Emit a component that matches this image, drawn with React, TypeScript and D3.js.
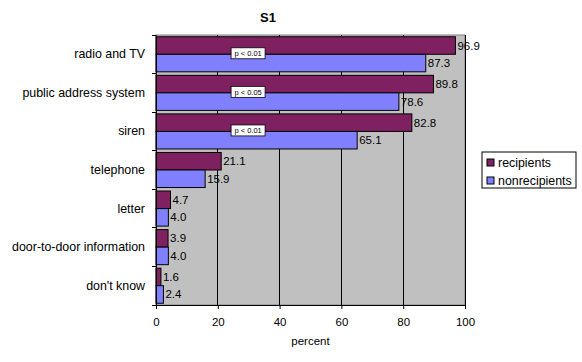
import { useRef, useEffect } from 'react';
import * as d3 from 'd3';

const categories = [
  'radio and TV',
  'public address system',
  'siren',
  'telephone',
  'letter',
  'door-to-door information',
  "don't know",
];
const recipients = [96.9, 89.8, 82.8, 21.1, 4.7, 3.9, 1.6];
const nonrecipients = [87.3, 78.6, 65.1, 15.9, 4.0, 4.0, 2.4];
const seriesNames = ['recipients', 'nonrecipients'];
const seriesColors = ['#7f2060', '#8080ff'];
const pLabels = ['p < 0.01', 'p < 0.05', 'p < 0.01', '', '', '', ''];
const xTicks = [0, 20, 40, 60, 80, 100];

const width = 582;
const height = 362;

function App() {
  const svgRef = useRef<SVGSVGElement>(null);

  useEffect(() => {
    const svg = d3.select(svgRef.current);
    svg.selectAll('*').remove();
    const font = 'Liberation Sans, Arial, sans-serif';
    const plot = { left: 156, right: 465, top: 35, bottom: 305 };

    const x = d3.scaleLinear().domain([0, 100]).range([plot.left, plot.right]);
    const y = d3
      .scaleBand()
      .domain(categories)
      .range([plot.top, plot.bottom])
      .paddingInner(0)
      .paddingOuter(0);
    const inner = d3
      .scaleBand()
      .domain(seriesNames)
      .range([0, y.bandwidth()])
      .paddingOuter(0.1)
      .paddingInner(0);

    // plot area
    svg
      .append('rect')
      .attr('x', plot.left)
      .attr('y', plot.top)
      .attr('width', plot.right - plot.left)
      .attr('height', plot.bottom - plot.top)
      .attr('fill', '#c0c0c0')
      .attr('stroke', '#808080');

    // gridlines
    svg
      .selectAll('line.grid')
      .data(xTicks.slice(1))
      .join('line')
      .attr('x1', (d) => x(d))
      .attr('x2', (d) => x(d))
      .attr('y1', plot.top)
      .attr('y2', plot.bottom)
      .attr('stroke', '#000')
      .attr('stroke-width', 1)
      .attr('shape-rendering', 'crispEdges');

    const data = categories.map((c, i) => ({
      cat: c,
      vals: [recipients[i], nonrecipients[i]],
      p: pLabels[i],
    }));

    const groups = svg
      .selectAll('g.cat')
      .data(data)
      .join('g')
      .attr('transform', (d) => `translate(0,${y(d.cat)})`);

    groups
      .selectAll('rect')
      .data((d) => d.vals.map((v, j) => ({ v, s: seriesNames[j], j })))
      .join('rect')
      .attr('x', x(0))
      .attr('y', (d) => inner(d.s)!)
      .attr('width', (d) => x(d.v) - x(0))
      .attr('height', inner.bandwidth())
      .attr('fill', (d) => seriesColors[d.j])
      .attr('stroke', '#000')
      .attr('stroke-width', 1);

    groups
      .selectAll('text.val')
      .data((d) => d.vals.map((v, j) => ({ v, s: seriesNames[j] })))
      .join('text')
      .attr('x', (d) => x(d.v) + 2)
      .attr('y', (d) => inner(d.s)! + inner.bandwidth() / 2 + 4)
      .attr('font-family', font)
      .attr('font-size', 11.5)
      .attr('fill', '#000')
      .text((d) => d.v.toFixed(1));

    // significance boxes
    const pg = groups.filter((d) => d.p !== '');
    pg.append('rect')
      .attr('x', x(24.3))
      .attr('y', y.bandwidth() / 2 - 6.5)
      .attr('width', 34)
      .attr('height', 11)
      .attr('fill', '#fff')
      .attr('stroke', '#000')
      .attr('stroke-width', 0.8);
    pg.append('text')
      .attr('x', x(24.3) + 17)
      .attr('y', y.bandwidth() / 2 + 2)
      .attr('text-anchor', 'middle')
      .attr('font-family', font)
      .attr('font-size', 7.5)
      .text((d) => d.p);

    // axes
    const yAxis = svg
      .append('g')
      .attr('transform', `translate(${plot.left},0)`)
      .call(d3.axisLeft(y).tickSize(0).tickPadding(11));
    yAxis.select('.domain').attr('stroke', '#000');
    yAxis
      .selectAll('text')
      .attr('font-family', font)
      .attr('font-size', 12.4)
      .attr('fill', '#000');
    svg
      .selectAll('line.ytick')
      .data(d3.range(categories.length + 1))
      .join('line')
      .attr('x1', plot.left - 4)
      .attr('x2', plot.left)
      .attr('y1', (i) => plot.top + i * y.step())
      .attr('y2', (i) => plot.top + i * y.step())
      .attr('stroke', '#000')
      .attr('shape-rendering', 'crispEdges');

    const xAxis = svg
      .append('g')
      .attr('transform', `translate(0,${plot.bottom})`)
      .call(d3.axisBottom(x).tickValues(xTicks).tickSize(4).tickPadding(9));
    xAxis.selectAll('line, .domain').attr('stroke', '#000');
    xAxis
      .selectAll('text')
      .attr('font-family', font)
      .attr('font-size', 11.5)
      .attr('fill', '#000');

    svg
      .append('text')
      .attr('x', x(50))
      .attr('y', 345)
      .attr('text-anchor', 'middle')
      .attr('font-family', font)
      .attr('font-size', 11.5)
      .text('percent');

    svg
      .append('text')
      .attr('x', 268)
      .attr('y', 22)
      .attr('text-anchor', 'middle')
      .attr('font-family', font)
      .attr('font-size', 13)
      .attr('font-weight', 'bold')
      .text('S1');

    // legend
    const lg = svg.append('g').attr('transform', 'translate(482,152)');
    lg.append('rect')
      .attr('width', 94)
      .attr('height', 36)
      .attr('fill', '#fff')
      .attr('stroke', '#000');
    seriesNames.forEach((s, i) => {
      lg.append('rect')
        .attr('x', 5)
        .attr('y', 7 + i * 18)
        .attr('width', 7)
        .attr('height', 7)
        .attr('fill', seriesColors[i])
        .attr('stroke', '#000');
      lg.append('text')
        .attr('x', 16)
        .attr('y', 15 + i * 18)
        .attr('font-family', font)
        .attr('font-size', 12.4)
        .text(s);
    });
  }, []);

  return (
    <svg
      ref={svgRef}
      width={width}
      height={height}
      style={{ position: 'absolute', left: 0, top: 0, background: '#fff' }}
    ></svg>
  );
}

export default App;
